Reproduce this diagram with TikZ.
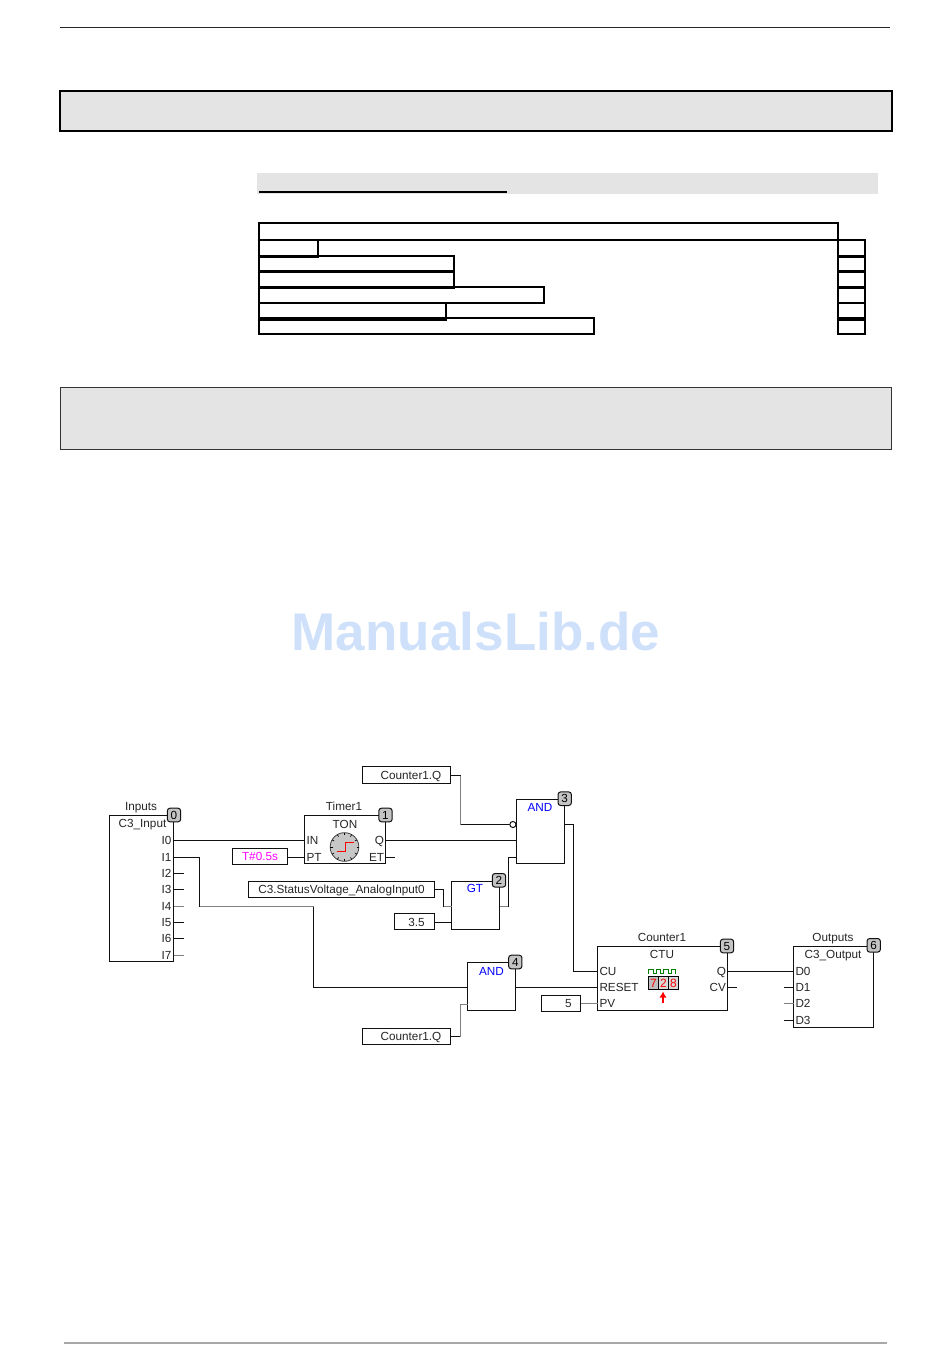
\documentclass[tikz,border=0pt]{standalone}
\usepackage{fontspec}
\usetikzlibrary{arrows.meta}
\setmainfont{Liberation Sans}
\definecolor{bannerfill}{HTML}{E4E4E4}
\definecolor{wirebk}{HTML}{101010}
\definecolor{wiregr}{HTML}{808080}
\definecolor{badgefill}{HTML}{C4C4C4}
\definecolor{wmblue}{HTML}{CFE1FA}
\definecolor{rulegr}{HTML}{A8A8A8}
\definecolor{puremag}{HTML}{FF00FF}
\definecolor{pureblue}{HTML}{0000FF}
\definecolor{purered}{HTML}{FF0000}
\definecolor{pulsegr}{HTML}{008000}
\newcommand{\bx}[6][fbd]{\node[#1,minimum width={(#5-#3)*0.75pt},minimum height={(#6-#4)*0.75pt}] (#2) at ({(#3+#5)/2},{(#4+#6)/2}) {};}
\newcommand{\badge}[4]{\node[badgest] (#1) at (#2,#3) {#4};}
\newcommand{\tx}[5][ctr]{\node[#1] (#2) at (#3,#4) {#5};}
\tikzset{
  fbd/.style={draw=wirebk,line width=0.75pt,fill=white,inner sep=0pt,outer sep=0pt},
  tbl/.style={draw=black,line width=1.5pt,inner sep=0pt,outer sep=0pt},
  badgest/.style={draw=wirebk,line width=0.75pt,fill=badgefill,rounded corners=2pt,minimum width=10pt,minimum height=10.2pt,inner sep=0pt,outer sep=0pt,text height=6.2pt,text depth=0pt,font=\fontsize{8.8pt}{9pt}\selectfont},
  ctr/.style={inner sep=0pt,outer sep=0pt,text height=6.2pt,text depth=0pt,font=\fontsize{8.8pt}{9pt}\selectfont,text=black!85},
  pinl/.style={ctr,anchor=west},
  pinr/.style={ctr,anchor=east},
  bluet/.style={ctr,text=pureblue},
  magt/.style={ctr,text=puremag},
  wire/.style={draw=wirebk,line width=0.75pt},
  gwire/.style={draw=wiregr,line width=0.75pt},
  digit/.style={inner sep=0pt,outer sep=0pt,text height=6.4pt,text depth=0pt,font=\fontsize{9pt}{9pt}\selectfont,text=purered},
}
\begin{document}
\begin{tikzpicture}[x=0.75pt,y=-0.75pt]
\useasboundingbox (0,0) rectangle (950,1370);
% page furniture
\coordinate (ruleA) at (60,27.5); \coordinate (ruleB) at (890,27.5);
\draw[line width=1pt,black!85] (ruleA) -- (ruleB);
\bx[draw=black,line width=1.4pt,fill=bannerfill,inner sep=0pt,outer sep=0pt]{banA}{60}{91}{892}{131}
\bx[fill=bannerfill,inner sep=0pt,outer sep=0pt]{band}{257}{173}{878}{194}
\coordinate (ulA) at (259,192); \coordinate (ulB) at (507,192);
\draw[line width=1.7pt,black] (ulA) -- (ulB);
\bx[tbl]{r0}{259}{223}{838}{240}
\bx[tbl]{r1}{259}{240}{318}{257}
\bx[tbl]{r2}{259}{256}{454}{272}
\bx[tbl]{r3}{259}{271}{454}{288}
\bx[tbl]{r4}{259}{287}{544}{303}
\bx[tbl]{r5}{259}{303}{446}{320}
\bx[tbl]{r6}{259}{318}{594}{334}
\bx[tbl]{c1}{838}{240}{865}{257}
\bx[tbl]{c2}{838}{256}{865}{272}
\bx[tbl]{c3}{838}{271}{865}{288}
\bx[tbl]{c4}{838}{287}{865}{303}
\bx[tbl]{c5}{838}{303}{865}{320}
\bx[tbl]{c6}{838}{318}{865}{334}
\bx[draw=black!80,line width=0.75pt,fill=bannerfill,inner sep=0pt,outer sep=0pt]{banB}{60.5}{387.5}{891.5}{449.5}
\node[inner sep=0pt,text=wmblue,font=\bfseries\fontsize{39.8pt}{40pt}\selectfont] (wm) at (476,632) {ManualsLib.de};
\coordinate (footA) at (64,1343); \coordinate (footB) at (887,1343);
\draw[line width=1.3pt,rulegr] (footA) -- (footB);

% ---- blocks
\bx{inp}{109.5}{815.5}{173.5}{961.5}
\bx{ton}{304.5}{815.5}{385.5}{863.5}
\bx{tval}{232.5}{848.5}{287.5}{864.5}
\bx{volt}{248.5}{881.5}{434.5}{897.5}
\bx{thr}{394.5}{913.5}{434.5}{929.5}
\bx{cqa}{362.5}{766.5}{450.5}{783.5}
\bx{anda}{516.5}{799.5}{564.5}{863.5}
\bx{gt}{451.5}{881.5}{499.5}{929.5}
\bx{ctu}{597.5}{946.5}{727.5}{1010.5}
\bx{andb}{467.5}{962.5}{515.5}{1010.5}
\bx{pv}{541.5}{995.5}{580.5}{1011.5}
\bx{cqb}{362.5}{1028.5}{450.5}{1044.5}
\bx{out}{793.5}{946.5}{873.5}{1027.5}

% ---- pins and bends
\coordinate (i0) at (173.5,840.5);   \coordinate (i1) at (173.5,857.5);
\coordinate (i2) at (173.5,873.5);   \coordinate (i3) at (173.5,889.5);
\coordinate (i4) at (173.5,906.5);   \coordinate (i5) at (173.5,922.5);
\coordinate (i6) at (173.5,938.5);   \coordinate (i7) at (173.5,955.5);
\coordinate (e2) at (184,873.5); \coordinate (e3) at (184,889.5); \coordinate (e4) at (184,906.5);
\coordinate (e5) at (184,922.5); \coordinate (e6) at (184,938.5); \coordinate (e7) at (184,955.5);
\coordinate (tonIN) at (304.5,840.5); \coordinate (tonPT) at (304.5,857.5);
\coordinate (tonQ) at (385.5,840.5);  \coordinate (tonET) at (385.5,857.5);
\coordinate (etEnd) at (395,857.5);
\coordinate (i1a) at (199.5,857.5); \coordinate (i1b) at (199.5,906.5); \coordinate (i1c) at (313.5,906.5);
\coordinate (i1d) at (313.5,987.5);
\coordinate (abIn1) at (467.5,987.5); \coordinate (abIn2) at (467.5,1004.5);
\coordinate (abOut) at (515.5,987.5);
\coordinate (ctuCU) at (597.5,971.5); \coordinate (ctuRS) at (597.5,987.5); \coordinate (ctuPV) at (597.5,1003.5);
\coordinate (ctuQ) at (727.5,971.5); \coordinate (ctuCV) at (727.5,987.5); \coordinate (cvEnd) at (737,987.5);
\coordinate (d0) at (793.5,971.5); \coordinate (d1) at (793.5,987.5); \coordinate (d2) at (793.5,1003.5); \coordinate (d3) at (793.5,1020.5);
\coordinate (d1e) at (784,987.5); \coordinate (d2e) at (784,1003.5); \coordinate (d3e) at (784,1020.5);
\coordinate (aaIn1) at (509.7,824.5); \coordinate (aaIn2) at (516.5,840.5); \coordinate (aaIn3) at (516.5,857.5);
\coordinate (aaOut) at (564.5,824.5);
\coordinate (gtIn1) at (451.5,906.5); \coordinate (gtIn2) at (451.5,922.5); \coordinate (gtOut) at (499.5,906.5);
\coordinate (cqaOut) at (450.5,775.5); \coordinate (qa1) at (460.5,775.5); \coordinate (qa2) at (460.5,824.5);
\coordinate (vOut) at (434.5,889.5); \coordinate (v1) at (443.5,889.5); \coordinate (v2) at (443.5,906.5);
\coordinate (thOut) at (434.5,922.5);
\coordinate (g1) at (508.5,906.5); \coordinate (g2) at (508.5,857.5);
\coordinate (a1) at (573.5,824.5); \coordinate (a2) at (573.5,971.5);
\coordinate (tvOut) at (287.5,857.5);
\coordinate (pvOut) at (580.5,1003.5);
\coordinate (qbOut) at (450.5,1036.5); \coordinate (qb1) at (460.5,1036.5); \coordinate (qb2) at (460.5,1004.5);

% ---- wires
\draw[wire] (i0) -- (tonIN);
\draw[wire] (i1) -- (i1a) -- (i1b);
\draw[gwire] (i1b) -- (i1c);
\draw[wire] (i1c) -- (i1d) -- (abIn1);
\draw[wire] (i2) -- (e2); \draw[wire] (i3) -- (e3);
\draw[gwire] (i4) -- (e4);
\draw[wire] (i5) -- (e5); \draw[wire] (i6) -- (e6);
\draw[gwire] (i7) -- (e7);
\draw[wire] (tvOut) -- (tonPT);
\draw[wire] (tonQ) -- (aaIn2);
\draw[wire] (tonET) -- (etEnd);
\draw[wire] (cqaOut) -- (qa1);
\draw[gwire] (qa1) -- (qa2);
\draw[wire] (qa2) -- (aaIn1);
\node[circle,draw=wirebk,line width=0.75pt,fill=white,minimum size=4.6pt,inner sep=0pt,outer sep=0pt] (neg) at (512.9,824.5) {};
\draw[wire] (vOut) -- (v1) -- (v2);
\draw[gwire] (v2) -- (gtIn1);
\draw[wire] (thOut) -- (gtIn2);
\draw[gwire] (gtOut) -- (g1);
\draw[wire] (g1) -- (g2) -- (aaIn3);
\draw[wire] (aaOut) -- (a1) -- (a2) -- (ctuCU);
\draw[wire] (abOut) -- (ctuRS);
\draw[gwire] (pvOut) -- (ctuPV);
\draw[wire] (qbOut) -- (qb1);
\draw[gwire] (qb1) -- (qb2) -- (abIn2);
\draw[wire] (ctuQ) -- (d0);
\draw[wire] (ctuCV) -- (cvEnd);
\draw[wire] (d1e) -- (d1);
\draw[gwire] (d2e) -- (d2);
\draw[wire] (d3e) -- (d3);

% ---- badges
\badge{b0}{174}{815}{0}
\badge{b1}{385.5}{815}{1}
\badge{b2}{499}{880.3}{2}
\badge{b3}{564.7}{798.7}{3}
\badge{b4}{515.3}{962}{4}
\badge{b5}{727}{946}{5}
\badge{b6}{873.7}{945.3}{6}

% ---- labels
\tx{tInputs}{141}{806}{Inputs}
\tx{tC3in}{142.5}{823.5}{C3\_Input}
\tx[pinr]{tI0}{171.5}{840}{I0}
\tx[pinr]{tI1}{171.5}{857}{I1}
\tx[pinr]{tI2}{171.5}{873}{I2}
\tx[pinr]{tI3}{171.5}{889}{I3}
\tx[pinr]{tI4}{171.5}{906}{I4}
\tx[pinr]{tI5}{171.5}{922}{I5}
\tx[pinr]{tI6}{171.5}{938}{I6}
\tx[pinr]{tI7}{171.5}{955}{I7}
\tx{tTimer}{344}{806}{Timer1}
\tx{tTON}{345}{824}{TON}
\tx[pinl]{tIN}{306.5}{840}{IN}
\tx[pinl]{tPT}{306.5}{857}{PT}
\tx[pinr]{tQ}{384}{840}{Q}
\tx[pinr]{tET}{384}{857}{ET}
\tx[magt]{tTv}{260}{856.5}{T\#0.5s}
\tx{tVolt}{341.5}{889}{C3.StatusVoltage\_AnalogInput0}
\tx{tThr}{416.5}{922}{3.5}
\tx{tCqa}{411}{775}{Counter1.Q}
\tx[bluet]{tAnda}{540}{807}{AND}
\tx[bluet]{tGt}{475}{888.5}{GT}
\tx[bluet]{tAndb}{491.5}{971}{AND}
\tx{tCounter}{662}{937}{Counter1}
\tx{tCTU}{662}{954}{CTU}
\tx[pinl]{tCU}{599.5}{971}{CU}
\tx[pinl]{tRS}{599.5}{987}{RESET}
\tx[pinl]{tPV}{599.5}{1003}{PV}
\tx[pinr]{tCQ}{726}{971}{Q}
\tx[pinr]{tCV}{726}{987}{CV}
\tx{tFive}{568.5}{1003}{5}
\tx{tCqb}{411}{1036}{Counter1.Q}
\tx{tOutputs}{833}{937}{Outputs}
\tx{tC3out}{833}{954}{C3\_Output}
\tx[pinl]{tD0}{795.5}{971}{D0}
\tx[pinl]{tD1}{795.5}{987}{D1}
\tx[pinl]{tD2}{795.5}{1003}{D2}
\tx[pinl]{tD3}{795.5}{1020}{D3}

% ---- timer clock icon
\node[circle,draw=black!75,line width=0.6pt,fill=black!22,minimum size=21.5pt,inner sep=0pt,outer sep=0pt] (clock) at (344.5,847) {};
\foreach \a in {0,30,...,330}{\draw[black,line width=0.5pt] (clock.center) ++(\a:12) -- ++(\a:2.4);}
\draw[purered,line width=0.75pt] (336.5,851) -- (345,851) -- (345,842.5) -- (354,842.5);

% ---- counter icon
\draw[pulsegr,line width=0.75pt] (648.5,973.5)
  -- ++(0,-4) -- ++(4.5,0) -- ++(0,4) -- ++(3,0)
  -- ++(0,-4) -- ++(4.5,0) -- ++(0,4) -- ++(3,0)
  -- ++(0,-4) -- ++(4.5,0) -- ++(0,4) -- ++(3,0)
  -- ++(0,-4) -- ++(4,0) -- ++(0,4);
\bx[fill=black,inner sep=0pt,outer sep=0pt]{dispbg}{648}{976}{679}{990}
\bx[fill=black!25,inner sep=0pt,outer sep=0pt]{d7}{649}{977}{658}{989}
\bx[fill=black!15,inner sep=0pt,outer sep=0pt]{d2c}{659}{977}{668}{989}
\bx[fill=black!15,inner sep=0pt,outer sep=0pt]{d8}{669}{977}{678}{989}
\node[digit] (dg7) at (d7) {7};
\node[digit] (dg2) at (d2c) {2};
\node[digit] (dg8) at (d8) {8};
\coordinate (arrB) at (663,1002.5); \coordinate (arrT) at (663,991.5);
\draw[purered,line width=1.3pt,-{Latex[length=4.5pt,width=5.5pt]}] (arrB) -- (arrT);
\end{tikzpicture}
\end{document}
